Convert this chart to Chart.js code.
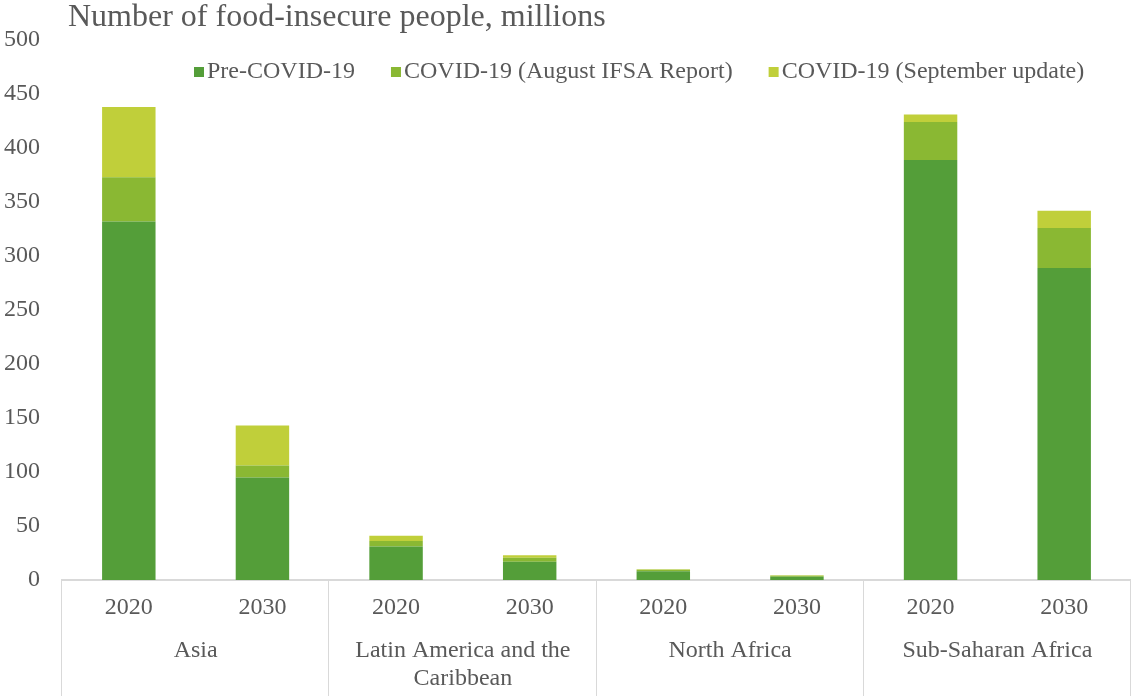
<!DOCTYPE html>
<html>
<head>
<meta charset="utf-8">
<script src="https://cdn.jsdelivr.net/npm/chart.js@4/dist/chart.umd.min.js"></script>
<style>
  html, body { margin: 0; padding: 0; background: #fff; }
  #wrap { width: 1131px; height: 696px; }
</style>
</head>
<body>
<div id="wrap"><canvas id="chart"></canvas></div>
<script>
// Données (millions de personnes)
const title = 'Number of food-insecure people, millions';
const years = ['2020', '2030', '2020', '2030', '2020', '2030', '2020', '2030'];
const regions = [['Asia'], ['Latin America and the', 'Caribbean'], ['North Africa'], ['Sub-Saharan Africa']];
const preCovid = [332, 95, 31, 17, 8, 3, 389, 289];
const covidAugust = [41, 11, 5, 3.5, 1.5, 1, 35, 37];
const covidSeptember = [65, 37, 5, 2.5, 0.5, 0.5, 7, 16];
const seriesNames = ['Pre-COVID-19', 'COVID-19 (August IFSA Report)', 'COVID-19 (September update)'];
const colors = ['#549E39', '#8AB833', '#C0CF3A'];

const fontFamily = '"Liberation Serif", "Times New Roman", serif';
const textColor = '#595959';
const lineColor = '#d9d9d9';

// Titre, légende et niveaux de catégories dessinés à la main
const decorations = {
    id: 'decorations',
    afterDraw(chart) {
        const ctx = chart.ctx;
        const x = chart.scales.x;
        const area = chart.chartArea;
        ctx.save();

        // titre
        ctx.fillStyle = textColor;
        ctx.font = '32px ' + fontFamily;
        ctx.textAlign = 'left';
        ctx.textBaseline = 'middle';
        ctx.fillText(title, 68, 18);

        // légende
        ctx.font = '24px ' + fontFamily;
        let lx = 194;
        const ly = 72;
        chart.data.datasets.forEach(ds => {
            ctx.fillStyle = ds.backgroundColor;
            ctx.fillRect(lx, ly - 5, 10, 10);
            ctx.fillStyle = textColor;
            ctx.fillText(ds.label, lx + 13, ly);
            lx += 13 + ctx.measureText(ds.label).width + 36;
        });

        // séparateurs et noms des régions
        const half = (x.getPixelForValue(1) - x.getPixelForValue(0)) / 2;
        ctx.strokeStyle = lineColor;
        ctx.lineWidth = 1;
        for (let g = 0; g <= regions.length; g++) {
            const i = Math.min(g * 2, years.length - 1);
            const px = Math.round(g * 2 < years.length ? x.getPixelForValue(i) - half : x.getPixelForValue(i) + half) - 0.5;
            ctx.beginPath();
            ctx.moveTo(px, area.bottom);
            ctx.lineTo(px, chart.height);
            ctx.stroke();
        }
        ctx.fillStyle = textColor;
        ctx.textAlign = 'center';
        regions.forEach((lines, g) => {
            const cx = (x.getPixelForValue(g * 2) + x.getPixelForValue(g * 2 + 1)) / 2;
            lines.forEach((line, k) => ctx.fillText(line, cx, 651 + k * 28));
        });
        ctx.restore();
    }
};

new Chart(document.getElementById('chart'), {
    type: 'bar',
    data: {
        labels: years,
        datasets: [
            { label: seriesNames[0], data: preCovid, backgroundColor: colors[0] },
            { label: seriesNames[1], data: covidAugust, backgroundColor: colors[1] },
            { label: seriesNames[2], data: covidSeptember, backgroundColor: colors[2] }
        ]
    },
    options: {
        responsive: true,
        maintainAspectRatio: false,
        animation: false,
        layout: { padding: { top: 40, right: 0, bottom: 0, left: 0 } },
        datasets: { bar: { barPercentage: 0.4, categoryPercentage: 1 } },
        plugins: {
            legend: { display: false },
            title: { display: false },
            tooltip: { enabled: false }
        },
        scales: {
            x: {
                stacked: true,
                grid: { display: false, drawTicks: false },
                border: { display: true, color: lineColor, width: 2 },
                ticks: { color: textColor, font: { family: fontFamily, size: 24 }, padding: 13, maxRotation: 0 },
                afterFit: scale => { scale.height = 116; }
            },
            y: {
                stacked: true,
                min: 0,
                max: 500,
                grid: { display: false, drawTicks: false },
                border: { display: false },
                ticks: { stepSize: 50, color: textColor, font: { family: fontFamily, size: 24 }, padding: 22 },
                afterFit: scale => { scale.width = 62; }
            }
        }
    },
    plugins: [decorations]
});
</script>
</body>
</html>
